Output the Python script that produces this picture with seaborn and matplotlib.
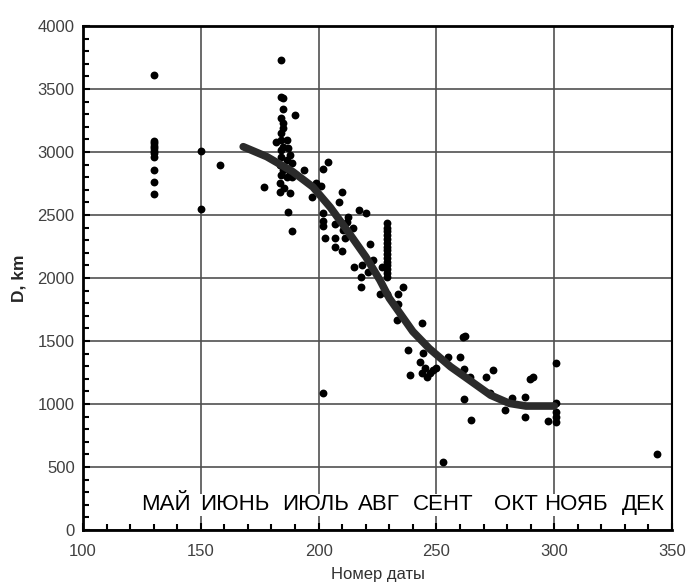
import numpy as np
import pandas as pd
import seaborn as sns
import matplotlib.pyplot as plt
from matplotlib.ticker import MultipleLocator

day = ([130] * 11
       + [150, 150, 158, 177]
       + [184, 184, 185, 185, 190, 184, 185, 185, 184, 184, 182, 186.5, 185, 184, 187,
          188, 184, 186.5, 188.5, 183.5, 185, 188, 184, 186.5, 188.5, 183.5, 185.5, 188,
          183.5, 187, 188.5]
       + [194, 197, 199, 201, 202, 204, 201.7, 201.7, 202, 202.8, 202]
       + [207, 207, 207, 210, 209.8, 208.8, 212.5, 212, 214.7, 210.5, 211.2, 217, 220,
          222, 215, 218.3, 218, 218, 221, 223]
       + [229] * 15
       + [226.7, 226, 229, 233.8, 236, 233.8, 233.2, 243.7, 238, 238.8]
       + [244.4, 243, 243.7, 245.8, 247.3, 248.7, 245.2, 250, 255, 260, 261.2, 262,
          261.7, 264.3, 261.7, 264.7]
       + [271, 274, 272.7, 279, 282, 287.6, 287.6, 289.7, 291]
       + [300.6, 300.6, 300.6, 300.6, 297.5, 300.6, 252.7, 343.5])

dist = ([3610, 3090, 3070, 3050, 3030, 3010, 2990, 2960, 2860, 2760, 2670]
        + [3005, 2545, 2900, 2722]
        + [3730, 3434, 3426, 3339, 3294, 3267, 3228, 3188, 3148, 3095, 3082, 3095, 3042,
           3016, 3029, 2976, 2963, 2937, 2910, 2897, 2857, 2844, 2817, 2804, 2804, 2752,
           2712, 2672, 2685, 2527, 2370]
        + [2860, 2642, 2757, 2730, 2868, 2922, 2515, 2450, 2410, 2316, 1085]
        + [2425, 2315, 2249, 2214, 2679, 2606, 2487, 2447, 2394, 2381, 2315, 2540, 2516,
           2272, 2090, 2103, 2010, 1928, 2051, 2145]
        + [2434, 2400, 2370, 2340, 2310, 2280, 2250, 2220, 2190, 2160, 2130, 2100, 2070,
           2040, 2011]
        + [2090, 1873, 1870, 1873, 1928, 1790, 1665, 1646, 1429, 1228]
        + [1402, 1336, 1243, 1217, 1243, 1270, 1283, 1283, 1370, 1370, 1529, 1540,
           1275, 1212, 1037, 873]
        + [1217, 1270, 1085, 952, 1045, 1053, 894, 1198, 1217]
        + [1323, 1005, 939, 899, 868, 860, 540, 605])

# Fitted trend curve
curve_day = [168, 178, 189, 197.6, 205, 212, 220, 226, 230, 240, 247, 256, 264, 273, 281, 288, 300]
curve_dist = [3042, 2963, 2844, 2722, 2560, 2381, 2169, 1984, 1840, 1575, 1440, 1296, 1190, 1070, 1005, 984, 984]

# Month labels along the bottom
months = ['МАЙ', 'ИЮНЬ', 'ИЮЛЬ', 'АВГ', 'СЕНТ', 'ОКТ', 'НОЯБ', 'ДЕК']
month_pos = [135.2, 164.5, 198.5, 225.4, 253, 283.8, 309.3, 338]

df = pd.DataFrame({'day': day, 'dist': dist})
curve = pd.DataFrame({'day': curve_day, 'dist': curve_dist})

sns.set_style('white')
plt.rcParams['font.family'] = ['Liberation Sans', 'DejaVu Sans']

fig = plt.figure(figsize=(6.86, 5.83), dpi=100)
ax = fig.add_axes([0.121, 0.0909, 0.8586, 0.8645])

sns.scatterplot(data=df, x='day', y='dist', color='black', s=32, linewidth=0, ax=ax, zorder=3)
sns.lineplot(data=curve, x='day', y='dist', color='#2b2b2b', linewidth=5.5, estimator=None,
             sort=False, ax=ax, zorder=4, solid_capstyle='round')

for name, pos in zip(months, month_pos):
    ax.text(pos, 200, name, ha='center', va='center', fontsize=16, color='black', zorder=5,
            bbox=dict(facecolor='white', edgecolor='none', pad=0.5))

ax.set_xlim(100, 350)
ax.set_ylim(0, 4000)
ax.xaxis.set_major_locator(MultipleLocator(50))
ax.xaxis.set_minor_locator(MultipleLocator(10))
ax.yaxis.set_major_locator(MultipleLocator(500))
ax.yaxis.set_minor_locator(MultipleLocator(100))
ax.grid(True, which='major', color='#505050', linewidth=1.2)
ax.set_axisbelow(True)

ax.tick_params(which='both', direction='in', left=True, bottom=True, top=False, right=False,
               width=1.5, color='black', labelsize=12, labelcolor='#404040')
ax.tick_params(which='major', length=5)
ax.tick_params(which='minor', length=4)
ax.tick_params(axis='x', which='major', pad=10)
ax.tick_params(axis='y', which='major', pad=6)

for side in ['left', 'bottom', 'top']:
    ax.spines[side].set_linewidth(2)
    ax.spines[side].set_color('black')
ax.spines['right'].set_linewidth(1.5)
ax.spines['right'].set_color('black')

ax.set_xlabel('Номер даты', fontsize=12, color='#303030', labelpad=6)
ax.set_ylabel('D, km', fontsize=12.5, fontweight='bold', labelpad=8)

plt.savefig('out.png', dpi=100)
